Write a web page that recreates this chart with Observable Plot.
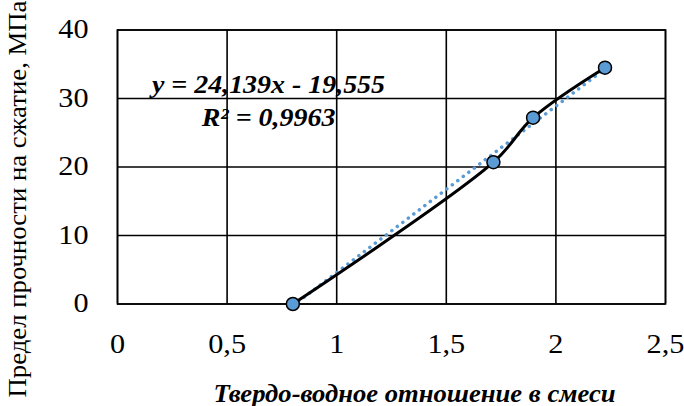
<!DOCTYPE html>
<html><head><meta charset="utf-8">
<script src="https://cdn.jsdelivr.net/npm/d3@7"></script>
<script src="https://cdn.jsdelivr.net/npm/@observablehq/plot@0.6"></script>
<style>
body{margin:0;background:#fff;}
svg{display:block;}
</style>
</head><body>
<div id="chart"></div>
<script>
const ratio = [0.8, 1.715, 1.896, 2.224];
const strength = [0, 20.7, 27.2, 34.5];
const xTicks = [0, 0.5, 1, 1.5, 2, 2.5];
const xTickLabels = ["0", "0,5", "1", "1,5", "2", "2,5"];
const yTicks = [0, 10, 20, 30, 40];
const yLabel = "Предел прочности на сжатие, МПа";
const xLabel = "Твердо-водное отношение в смеси";
const eqText = "y = 24,139x - 19,555";
const r2Text = "R² = 0,9963";

const data = ratio.map((x, i) => ({x, y: strength[i]}));
const font = "'Liberation Serif', 'Times New Roman', serif";

const chart = Plot.plot({
  width: 684, height: 406,
  marginLeft: 117, marginRight: 19, marginTop: 29.5, marginBottom: 102.5,
  style: {fontFamily: font, background: "#fff", color: "#000"},
  x: {domain: [0, 2.5], ticks: xTicks},
  y: {domain: [0, 40], ticks: yTicks},
  marks: [
    Plot.gridX(xTicks, {stroke: "#000", strokeOpacity: 1, strokeWidth: 1.6}),
    Plot.gridY(yTicks, {stroke: "#000", strokeOpacity: 1, strokeWidth: 1.6}),
    Plot.frame({stroke: "#000", strokeWidth: 1.6}),
    Plot.axisX({ticks: xTicks, tickSize: 0, tickPadding: 30, fontSize: 26.5, label: null, className: "stretch",
      tickFormat: (d) => xTickLabels[xTicks.indexOf(d)]}),
    Plot.axisY({ticks: yTicks, tickSize: 0, tickPadding: 29, fontSize: 26.5, label: null, className: "stretch"}),
    Plot.linearRegressionY(data, {x: "x", y: "y", ci: 0, stroke: "#5b9bd5", strokeWidth: 3.5,
      strokeDasharray: "0.1 6.8", strokeLinecap: "round"}),
    Plot.line(data, {x: "x", y: "y", curve: "catmull-rom", stroke: "#000", strokeWidth: 3}),
    Plot.dot(data, {x: "x", y: "y", r: 6.5, fill: "#5b9bd5", stroke: "#000", strokeWidth: 1.5}),
    Plot.text([eqText], {frameAnchor: "top-left", dx: 151, dy: 62.5, text: d => d, textAnchor: "middle",
      fontSize: 24.5, fontWeight: "bold", fontStyle: "italic", lineAnchor: "bottom", className: "stretch"}),
    Plot.text([r2Text], {frameAnchor: "top-left", dx: 151, dy: 96, text: d => d, textAnchor: "middle",
      fontSize: 24.5, fontWeight: "bold", fontStyle: "italic", lineAnchor: "bottom", className: "stretch"}),
    Plot.text([xLabel], {frameAnchor: "bottom", dx: 23, dy: 98, text: d => d, textAnchor: "middle",
      fontSize: 25, fontWeight: "bold", fontStyle: "italic", lineAnchor: "bottom", className: "xlab"}),
    Plot.text([yLabel], {frameAnchor: "left", dx: -100, dy: 32, rotate: -90, text: d => d, textAnchor: "middle",
      fontSize: 25, lineAnchor: "middle", className: "ylab"})
  ]
});
document.getElementById("chart").appendChild(chart);
chart.querySelectorAll(".stretch text").forEach(t => {
  const w = t.getComputedTextLength();
  t.setAttribute("textLength", (w * 1.14).toFixed(1));
  t.setAttribute("lengthAdjust", "spacingAndGlyphs");
});
chart.querySelectorAll(".xlab text").forEach(t => {
  t.setAttribute("textLength", "402");
  t.setAttribute("lengthAdjust", "spacingAndGlyphs");
});
chart.querySelectorAll(".ylab text").forEach(t => {
  t.setAttribute("textLength", "397");
  t.setAttribute("lengthAdjust", "spacingAndGlyphs");
});
</script>
</body></html>
